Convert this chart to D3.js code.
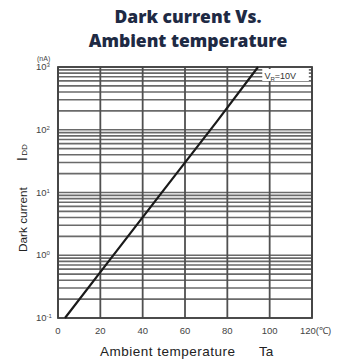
<!DOCTYPE html>
<html>
<head>
<meta charset="utf-8">
<script src="https://cdn.jsdelivr.net/npm/d3@7"></script>
<style>
  html, body { margin: 0; padding: 0; background: #fff; }
  svg { display: block; }
</style>
</head>
<body>
<svg id="chart" width="338" height="361"></svg>
<script>
// Dark current (nA) against ambient temperature (°C), VR = 10 V
const temperature = [3.3, 25, 50, 75, 94.5];
const darkCurrent = [0.1, 0.89, 11, 135, 1000];

const xTicks = [0, 20, 40, 60, 80, 100, 120];
const xTickLabels = ["0", "20", "40", "60", "80", "100", "120(℃)"];
const yDecades = [0.1, 1, 10, 100, 1000];
const yDecadeExp = ["-1", "0", "1", "2", "3"];

const svg = d3.select("#chart");
const plotL = 58, plotR = 312, plotT = 67, plotB = 318;

const x = d3.scaleLinear().domain([0, 120]).range([plotL, plotR]);
const y = d3.scaleLog().domain([0.1, 1000]).range([plotB, plotT]);

// Title
const title = svg.append("text")
  .attr("x", 188).attr("text-anchor", "middle")
  .attr("font-family", "'Open Sans', sans-serif")
  .attr("font-weight", 800).attr("font-size", 17.5)
  .attr("fill", "#1e2a44");
title.append("tspan").attr("x", 188).attr("y", 23).text("Dark current Vs.");
title.append("tspan").attr("x", 188).attr("y", 47).text("Ambient temperature");

// Horizontal grid: every 1..9 × 10^n
const minorVals = [];
for (let e = -1; e < 3; e++) {
  for (let m = 1; m <= 9; m++) minorVals.push(m * Math.pow(10, e));
}
minorVals.push(1000);
svg.append("g").selectAll("line").data(minorVals).join("line")
  .attr("x1", plotL).attr("x2", plotR)
  .attr("y1", d => y(d)).attr("y2", d => y(d))
  .attr("stroke", "#6a6a6a").attr("stroke-width", 1.6);

// Vertical grid
svg.append("g").selectAll("line").data(xTicks).join("line")
  .attr("x1", d => x(d)).attr("x2", d => x(d))
  .attr("y1", plotT).attr("y2", plotB)
  .attr("stroke", "#505050").attr("stroke-width", 1.8);

// Frame
svg.append("rect")
  .attr("x", plotL).attr("y", plotT)
  .attr("width", plotR - plotL).attr("height", plotB - plotT)
  .attr("fill", "none").attr("stroke", "#444").attr("stroke-width", 1.8);

// VR label box
const note = svg.append("g");
note.append("rect")
  .attr("x", x(96.5)).attr("y", y(1000) + 2)
  .attr("width", x(118.5) - x(96.5)).attr("height", 12)
  .attr("fill", "#fff");
const noteText = note.append("text")
  .attr("x", x(97.5)).attr("y", y(1000) + 11.5)
  .attr("font-family", "'Liberation Sans', Arial, sans-serif")
  .attr("font-size", 9).attr("fill", "#333");
noteText.append("tspan").text("V");
noteText.append("tspan").attr("font-size", 6).attr("dy", 2).text("R");
noteText.append("tspan").attr("dy", -2).text("=10V");

// Characteristic line
svg.append("path")
  .datum(temperature.map((t, i) => [t, darkCurrent[i]]))
  .attr("d", d3.line().x(d => x(d[0])).y(d => y(d[1])))
  .attr("fill", "none").attr("stroke", "#1a1a1a").attr("stroke-width", 2.2);

// X tick labels
svg.append("g").selectAll("text").data(xTicks).join("text")
  .attr("x", (d, i) => i === xTicks.length - 1 ? x(d) - 12 : x(d))
  .attr("y", 334)
  .attr("text-anchor", (d, i) => i === xTicks.length - 1 ? "start" : "middle")
  .attr("font-family", "'Liberation Sans', Arial, sans-serif")
  .attr("font-size", 9.5).attr("fill", "#444")
  .text((d, i) => xTickLabels[i]);

// Y tick labels (10^n)
const yl = svg.append("g").selectAll("text").data(yDecades).join("text")
  .attr("x", 36).attr("y", d => y(d) + 3)
  .attr("font-family", "'Liberation Sans', Arial, sans-serif")
  .attr("font-size", 9.5).attr("fill", "#444");
yl.append("tspan").text("10");
yl.append("tspan").attr("font-size", 6).attr("dy", -3).text((d, i) => yDecadeExp[i]);

// Unit
svg.append("text")
  .attr("x", 37).attr("y", 61)
  .attr("font-family", "'Liberation Sans', Arial, sans-serif")
  .attr("font-size", 7).attr("fill", "#444").text("(nA)");

// Axis titles
svg.append("text")
  .attr("x", 100).attr("y", 356)
  .attr("font-family", "'Liberation Sans', Arial, sans-serif")
  .attr("font-size", 13.5).attr("letter-spacing", 0.5).attr("fill", "#222")
  .text("Ambient temperature");
svg.append("text")
  .attr("x", 259).attr("y", 356)
  .attr("font-family", "'Liberation Sans', Arial, sans-serif")
  .attr("font-size", 13.5).attr("fill", "#222")
  .text("Ta");

const ylab = svg.append("text")
  .attr("transform", "translate(27,252) rotate(-90)")
  .attr("font-family", "'Liberation Sans', Arial, sans-serif")
  .attr("font-size", 11.8).attr("fill", "#222");
ylab.append("tspan").text("Dark current");
ylab.append("tspan").attr("dx", 26).attr("font-size", 14).text("I");
ylab.append("tspan").attr("font-size", 8).attr("dx", 1.5).text("DD");
</script>
</body>
</html>
